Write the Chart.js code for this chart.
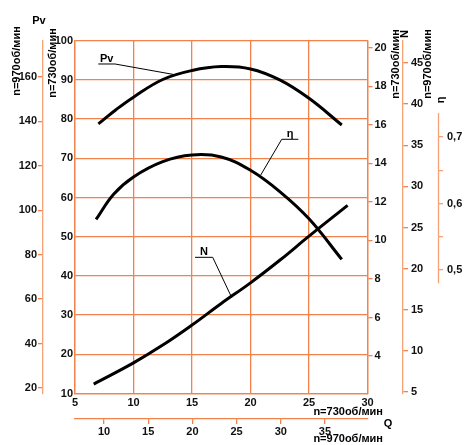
<!DOCTYPE html>
<html>
<head>
<meta charset="utf-8">
<script src="https://cdn.jsdelivr.net/npm/chart.js"></script>
<style>
html, body { margin: 0; padding: 0; background: #fff; }
#wrap { width: 468px; height: 445px; position: relative; }
</style>
</head>
<body>
<div id="wrap"><canvas id="pumpChart"></canvas></div>
<script>
// ---------- DATA ----------
const qPv = [7.0, 8.5, 10, 12.5, 15, 17.5, 20, 22.5, 25, 27.8];
const pvValues = [78.8, 82.4, 85.6, 90.1, 92.4, 93.4, 92.8, 90.0, 85.3, 78.5];

const qEta = [6.8, 8.3, 10, 12.5, 15, 17.5, 20, 22.5, 25, 27.8];
const etaValues = [0.576, 0.614, 0.640, 0.663, 0.673, 0.670, 0.650, 0.618, 0.577, 0.516];

const qN = [6.6, 10, 12.5, 15, 17.5, 20, 22.5, 25, 28.3];
const nValues = [2.55, 3.65, 4.57, 5.61, 6.73, 7.80, 8.97, 10.22, 11.82];

// tick labels
const q730Ticks = [5, 10, 15, 20, 25, 30];
const q970Ticks = [10, 15, 20, 25, 30, 35];
const pv730Ticks = [10, 20, 30, 40, 50, 60, 70, 80, 90, 100];
const pv970Ticks = [20, 40, 60, 80, 100, 120, 140, 160];
const n730Ticks = [4, 6, 8, 10, 12, 14, 16, 18, 20];
const n970Ticks = [5, 10, 15, 20, 25, 30, 35, 40, 45];
const etaTicks = [0.5, 0.55, 0.6, 0.65, 0.7];
const etaLabels = ["0,5", "", "0,6", "", "0,7"];

// ---------- STYLE ----------
const ORANGE = "#f3814a";
const ORANGE_LIGHT = "#f6a274";
const FONT = "'Liberation Sans', Arial, sans-serif";
const tickFont = { family: FONT, size: 11, weight: "bold" };

const toPoints = (xs, ys) => xs.map((x, i) => ({ x, y: ys[i] }));
const setTicks = list => scale => { scale.ticks = list.map(v => ({ value: v })); };

function curve(label, xs, ys, yAxisID) {
  return {
    label,
    data: toPoints(xs, ys),
    yAxisID,
    borderColor: "#000",
    borderWidth: 3,
    pointRadius: 0,
    tension: 0.4,
    fill: false
  };
}

// ---------- TEXT & LEADERS ----------
function vText(ctx, txt, x, y) {
  ctx.save();
  ctx.translate(x, y);
  ctx.rotate(-Math.PI / 2);
  ctx.textAlign = "center";
  ctx.textBaseline = "middle";
  ctx.fillText(txt, 0, 0);
  ctx.restore();
}

// callouts in data units of the main axes: [text, underline start Q, end Q, level, leader Q, leader level, from end?]
const callouts = [
  ["Pv", 6.99, 8.42, 94.06, 13.4, 91.4, true],
  ["η", 22.67, 24.09, 74.85, 20.87, 65.7, false],
  ["N", 15.26, 16.77, 44.74, 18.39, 34.5, true]
];

const extras = {
  id: "extras",
  afterDraw(chart) {
    const { ctx, scales } = chart;
    const { x, y, eta } = scales;
    ctx.save();

    // short η axis line
    ctx.strokeStyle = ORANGE_LIGHT;
    ctx.lineWidth = 1.3;
    ctx.beginPath();
    ctx.moveTo(eta.left + 0.5, eta.getPixelForValue(0.736));
    ctx.lineTo(eta.left + 0.5, eta.getPixelForValue(0.48));
    ctx.stroke();

    // curve callouts
    ctx.strokeStyle = "#000";
    ctx.fillStyle = "#000";
    ctx.font = "bold 11px " + FONT;
    ctx.textAlign = "center";
    ctx.textBaseline = "alphabetic";
    callouts.forEach(([txt, q0, q1, lv, qe, le, fromEnd]) => {
      const x0 = x.getPixelForValue(q0), x1 = x.getPixelForValue(q1);
      const yy = y.getPixelForValue(lv);
      ctx.lineWidth = 1;
      ctx.beginPath();
      ctx.moveTo(x0, yy);
      ctx.lineTo(x1, yy);
      ctx.moveTo(fromEnd ? x1 : x0, yy);
      ctx.lineTo(x.getPixelForValue(qe), y.getPixelForValue(le));
      ctx.stroke();
      ctx.fillText(txt, (x0 + x1) / 2, yy - 2);
    });

    // axis captions
    ctx.textAlign = "center";
    ctx.textBaseline = "middle";
    ctx.fillText("Pv", 39, 21);
    vText(ctx, "n=970об/мин", 17, 61);
    vText(ctx, "n=730об/мин", 53, 63);
    vText(ctx, "N", 405, 34);
    vText(ctx, "n=730об/мин", 396, 64);
    vText(ctx, "n=970об/мин", 428, 64);
    vText(ctx, "η", 441, 100);
    ctx.textAlign = "right";
    ctx.fillText("n=730об/мин", 383, 412);
    ctx.fillText("n=970об/мин", 383, 439);
    ctx.textAlign = "center";
    ctx.fillText("Q", 388, 424);
    ctx.restore();
  }
};

// ---------- CHART ----------
new Chart(document.getElementById("pumpChart"), {
  type: "line",
  data: {
    datasets: [
      curve("Pv", qPv, pvValues, "y"),
      curve("η", qEta, etaValues, "eta"),
      curve("N", qN, nValues, "n730")
    ]
  },
  options: {
    responsive: true,
    maintainAspectRatio: false,
    animation: false,
    layout: { padding: { top: 40.7, left: 0, right: 0, bottom: 0 } },
    plugins: { legend: { display: false }, tooltip: { enabled: false } },
    scales: {
      x: {
        type: "linear", position: "bottom", weight: 0,
        min: 5, max: 30,
        afterBuildTicks: setTicks(q730Ticks),
        afterFit: s => { s.height = 25.5; },
        grid: { color: ORANGE, lineWidth: 1.3, drawTicks: false },
        border: { color: ORANGE, width: 1.3 },
        ticks: { font: tickFont, color: "#111", padding: 3, maxRotation: 0 }
      },
      x970: {
        type: "linear", position: "bottom", weight: 1,
        min: 6.72, max: 39.81,
        afterBuildTicks: setTicks(q970Ticks),
        afterFit: s => { s.height = 26; },
        grid: { color: ORANGE, lineWidth: 1.3, drawOnChartArea: false, tickLength: 5 },
        border: { color: ORANGE, width: 1.3 },
        ticks: { font: tickFont, color: "#111", padding: 1, maxRotation: 0 }
      },
      y: {
        type: "linear", position: "left", weight: 0,
        min: 10, max: 100,
        afterBuildTicks: setTicks(pv730Ticks),
        afterFit: s => { s.width = 32; },
        grid: { color: ORANGE, lineWidth: 1.3, drawTicks: false },
        border: { color: ORANGE, width: 1.3 },
        ticks: { font: tickFont, color: "#111", padding: 2 }
      },
      y970: {
        type: "linear", position: "left", weight: 1,
        min: 17.52, max: 176.3,
        afterBuildTicks: setTicks(pv970Ticks),
        afterFit: s => { s.width = 43; },
        grid: { color: ORANGE, lineWidth: 1.3, drawOnChartArea: false, tickLength: 5 },
        border: { color: ORANGE_LIGHT, width: 1.3 },
        ticks: { font: tickFont, color: "#111", padding: 1 }
      },
      n730: {
        type: "linear", position: "right", weight: 0,
        min: 2.06, max: 20.36,
        afterBuildTicks: setTicks(n730Ticks),
        afterFit: s => { s.width = 35.5; },
        grid: { color: ORANGE, lineWidth: 1.3, drawOnChartArea: false, tickLength: 5 },
        border: { color: ORANGE, width: 1.3 },
        ticks: { font: tickFont, color: "#111", padding: 2 }
      },
      n970: {
        type: "linear", position: "right", weight: 1,
        min: 4.82, max: 47.71,
        afterBuildTicks: setTicks(n970Ticks),
        afterFit: s => { s.width = 35; },
        grid: { color: ORANGE, lineWidth: 1.3, drawOnChartArea: false, tickLength: 5 },
        border: { color: ORANGE_LIGHT, width: 1.3 },
        ticks: { font: tickFont, color: "#111", padding: 3 }
      },
      eta: {
        type: "linear", position: "right", weight: 2,
        min: 0.3143, max: 0.8448,
        afterBuildTicks: setTicks(etaTicks),
        afterFit: s => { s.width = 30; },
        grid: { color: ORANGE_LIGHT, lineWidth: 1.3, drawOnChartArea: false, tickLength: 5 },
        border: { display: false },
        ticks: {
          font: tickFont, color: "#111", padding: 4,
          callback: (v, i) => etaLabels[i]
        }
      }
    }
  },
  plugins: [extras]
});
</script>
</body>
</html>
